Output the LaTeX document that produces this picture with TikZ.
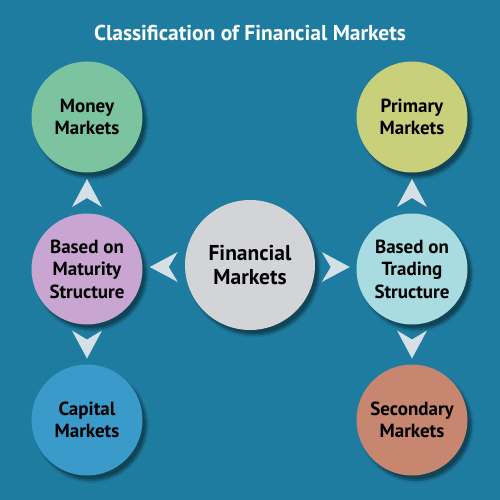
\documentclass[tikz,border=0pt]{standalone}
\usepackage{fontspec}
\setmainfont{PT Sans}
\usetikzlibrary{positioning,calc,shadows.blur}
\definecolor{bgblue}{HTML}{1E7CA0}
\definecolor{chevgray}{HTML}{D3E0E6}
\definecolor{moneyc}{HTML}{7CC4A0}
\definecolor{primc}{HTML}{C9D07C}
\definecolor{matc}{HTML}{C9A5D2}
\definecolor{finc}{HTML}{D2D4D7}
\definecolor{tradc}{HTML}{A9DCE0}
\definecolor{capc}{HTML}{3A9BCB}
\definecolor{secc}{HTML}{C6866F}
\tikzset{
  mkt/.style={circle, minimum size=111pt, inner sep=0pt, align=center,
    font=\bfseries\fontsize{19}{22.5}\selectfont,
    blur shadow={shadow xshift=4pt, shadow yshift=-5pt, shadow blur steps=10, shadow opacity=45}},
  hub/.style={mkt, minimum size=130pt, font=\bfseries\fontsize{21.5}{24}\selectfont},
  ttl/.style={font=\bfseries\fontsize{21.5}{24}\selectfont, text=white},
  chev/.pic={\fill[chevgray] (14,0) -- (-14,15) -- (-5,0) -- (-14,-15) -- cycle;}
}
\begin{document}
\begin{tikzpicture}[x=1pt, y=-1pt]
  \fill[bgblue] (0,0) rectangle (500,500);
  \useasboundingbox (0,0) rectangle (500,500);
  \node[ttl] (title) at (250,33) {Classification of Financial Markets};
  % circles
  \node[mkt, fill=moneyc] (money) at (87,117) {Money\\Markets};
  \node[mkt, fill=primc] (primary) at (412,117) {Primary\\Markets};
  \node[mkt, fill=matc] (maturity) at (87,269) {Based on\\Maturity\\Structure};
  \node[hub, fill=finc] (fin) at (250,265) {Financial\\Markets};
  \node[mkt, fill=tradc] (trading) at (412,269) {Based on\\Trading\\Structure};
  \node[mkt, fill=capc] (capital) at (87,420) {Capital\\Markets};
  \node[mkt, fill=secc] (secondary) at (412,420) {Secondary\\Markets};
  % chevrons
  \pic[rotate=180] at ($(maturity.east)!0.5!(fin.west)$) {chev};
  \pic at ($(fin.east)!0.5!(trading.west)$) {chev};
  \pic[rotate=90] at ($(maturity.north)!0.5!(money.south)$) {chev};
  \pic[rotate=-90] at ($(maturity.south)!0.5!(capital.north)$) {chev};
  \pic[rotate=90] at ($(trading.north)!0.5!(primary.south)$) {chev};
  \pic[rotate=-90] at ($(trading.south)!0.5!(secondary.north)$) {chev};
\end{tikzpicture}
\end{document}
